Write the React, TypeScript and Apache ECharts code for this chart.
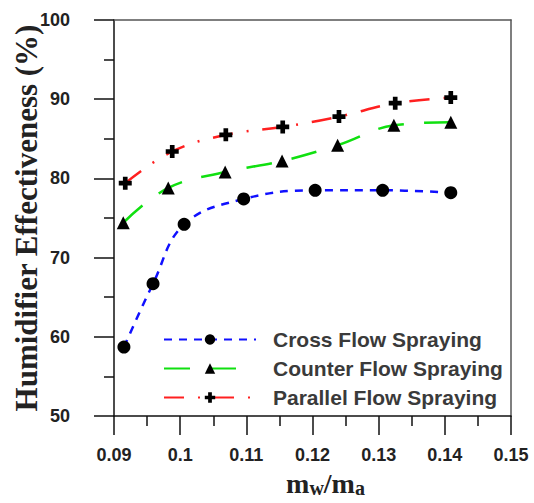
import React, { useEffect, useRef } from "react";
import * as echarts from "echarts";

const crossX = [0.0915, 0.0959, 0.1006, 0.1096, 0.1204, 0.1306, 0.1409];
const crossY = [58.7, 66.7, 74.2, 77.4, 78.5, 78.5, 78.2];
const counterX = [0.0914, 0.0982, 0.1068, 0.1154, 0.1238, 0.1323, 0.1409];
const counterY = [74.4, 78.8, 80.8, 82.2, 84.2, 86.7, 87.1];
const parallelX = [0.0917, 0.0988, 0.1069, 0.1155, 0.124, 0.1325, 0.1409];
const parallelY = [79.4, 83.4, 85.5, 86.5, 87.8, 89.5, 90.2];
const seriesNames = ["Cross Flow Spraying", "Counter Flow Spraying", "Parallel Flow Spraying"];

const pairs = (xs: number[], ys: number[]) => xs.map((x, i) => [x, ys[i]]);

const PLUS = "path://M3.2,0H6.8V3.2H10V6.8H6.8V10H3.2V6.8H0V3.2H3.2Z";

export default function App() {
  const ref = useRef<HTMLDivElement>(null);
  useEffect(() => {
    if (!ref.current) return;
    const chart = echarts.init(ref.current, null, { renderer: "svg" });
    const tickFont = { fontFamily: "Liberation Sans, Arial, sans-serif", fontWeight: "bold", fontSize: 18, color: "#222" };
    chart.setOption({
      animation: false,
      backgroundColor: "#fff",
      grid: { left: 114, top: 20, right: 23, bottom: 87, containLabel: false, outerBoundsMode: "none" },
      legend: {
        orient: "vertical",
        left: 158,
        top: 324,
        itemWidth: 92,
        itemHeight: 13,
        itemGap: 8,
        data: seriesNames,
        textStyle: {
          fontFamily: "Liberation Sans, Arial, sans-serif",
          fontWeight: "bold",
          fontSize: 21,
          color: "#3a3a3a",
          padding: [0, 0, 0, 12],
        },
      },
      xAxis: [
        {
          type: "value",
          min: 0.09,
          max: 0.15,
          interval: 0.01,
          name: "{m|m}{s|w}{m|/m}{s|a}",
          nameLocation: "middle",
          nameGap: 52,
          nameTextStyle: {
            padding: [0, 0, 0, 26],
            rich: {
              m: { fontFamily: "Liberation Serif, Times New Roman, serif", fontWeight: "bold", fontSize: 28, color: "#222" },
              s: { fontFamily: "Liberation Serif, Times New Roman, serif", fontWeight: "bold", fontSize: 20, color: "#222", padding: [10, 0, 0, 0] },
            },
          },
          axisLine: { onZero: false, lineStyle: { color: "#111", width: 1.5 } },
          axisTick: { show: true, length: 19, lineStyle: { color: "#111", width: 1.5 } },
          minorTick: { show: true, splitNumber: 2, length: 10, lineStyle: { color: "#111", width: 1.5 } },
          splitLine: { show: false },
          axisLabel: {
            ...tickFont,
            margin: 30,
            formatter: (v: number) => String(Math.round(v * 100) / 100),
          },
        },
        {
          type: "value",
          position: "top",
          min: 0.09,
          max: 0.15,
          axisLine: { show: true, onZero: false, lineStyle: { color: "#555", width: 1.5 } },
          axisTick: { show: false },
          axisLabel: { show: false },
          splitLine: { show: false },
        },
      ],
      yAxis: [
        {
          type: "value",
          min: 50,
          max: 100,
          interval: 10,
          name: "Humidifier Effectiveness (%)",
          nameLocation: "middle",
          nameGap: 72,
          nameMoveOverlap: false,
          nameTextStyle: {
            fontFamily: "Liberation Serif, Times New Roman, serif",
            fontWeight: "bold",
            fontSize: 31,
            color: "#222",
          },
          axisLine: { show: true, onZero: false, lineStyle: { color: "#111", width: 1.5 } },
          axisTick: { show: true, length: 20, lineStyle: { color: "#111", width: 1.5 } },
          minorTick: { show: true, splitNumber: 2, length: 10, lineStyle: { color: "#111", width: 1.5 } },
          splitLine: { show: false },
          axisLabel: { ...tickFont, margin: 44 },
        },
        {
          type: "value",
          position: "right",
          min: 50,
          max: 100,
          axisLine: { show: true, onZero: false, lineStyle: { color: "#555", width: 1.5 } },
          axisTick: { show: false },
          axisLabel: { show: false },
          splitLine: { show: false },
        },
      ],
      series: [
        {
          name: seriesNames[0],
          type: "line",
          smooth: 0.4,
          data: pairs(crossX, crossY),
          symbol: "circle",
          symbolSize: 13,
          itemStyle: { color: "#000" },
          lineStyle: { color: "#1010ff", width: 2.5, type: [8, 7] },
        },
        {
          name: seriesNames[1],
          type: "line",
          smooth: 0.4,
          data: pairs(counterX, counterY),
          symbol: "triangle",
          symbolSize: 13,
          itemStyle: { color: "#000" },
          lineStyle: { color: "#10e010", width: 2.5, type: [26, 20] },
        },
        {
          name: seriesNames[2],
          type: "line",
          smooth: 0.4,
          data: pairs(parallelX, parallelY),
          symbol: PLUS,
          symbolSize: 13,
          itemStyle: { color: "#000" },
          lineStyle: { color: "#ff2020", width: 2.5, type: [20, 14, 2, 14] },
        },
      ],
    });
    return () => chart.dispose();
  }, []);
  return <div ref={ref} style={{ width: 534, height: 503, position: "absolute", left: 0, top: 0 }} />;
}
